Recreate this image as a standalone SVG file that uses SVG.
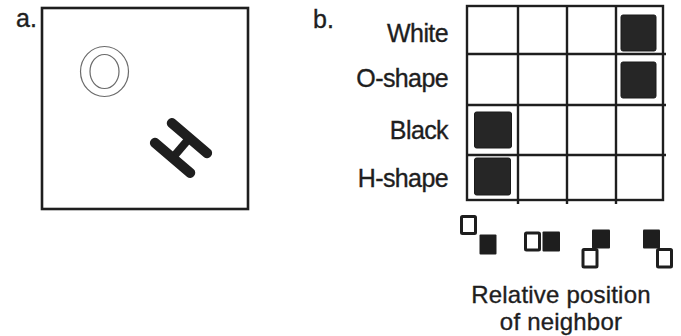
<svg xmlns="http://www.w3.org/2000/svg" width="681" height="336" viewBox="0 0 681 336">
<style>
text{font-family:"Liberation Sans",Arial,sans-serif;fill:#1e1e1e;stroke:#1e1e1e;stroke-width:0.35}
.lbl{font-size:25px;text-anchor:end;letter-spacing:-0.6px}
.ax{font-size:24px;text-anchor:middle;letter-spacing:0.2px}
.frame{fill:none;stroke:#1e1e1e;stroke-width:2.6}
.grid{stroke:#1e1e1e;stroke-width:2.4;fill:none}
.cell{fill:#262626;stroke:#1a1a1a;stroke-width:1}
.blk{fill:#1e1e1e}
.hol{fill:#fff;stroke:#1e1e1e;stroke-width:3}
.ring{fill:none;stroke:#6a6a6a;stroke-width:1.2}
</style>
<rect width="681" height="336" fill="#fff"/>
<g id="panel-a">
  <text x="16" y="27" style="font-size:25px">a.</text>
  <rect class="frame" x="42" y="8" width="206" height="201"/>
  <g id="o-shape">
    <ellipse class="ring" cx="104.5" cy="71.5" rx="24" ry="25"/>
    <ellipse class="ring" cx="104.5" cy="71.5" rx="14.5" ry="17"/>
  </g>
  <g id="h-shape" transform="translate(181,148) rotate(-49.5)" fill="#1e1e1e">
    <rect x="-18" y="-28" width="10" height="56" rx="4.5"/>
    <rect x="8" y="-28" width="10" height="56" rx="4.5"/>
    <rect x="-10" y="-4" width="20" height="8"/>
  </g>
</g>
<g id="panel-b">
  <text x="313" y="28" style="font-size:25px">b.</text>
  <g id="row-labels">
    <text class="lbl" x="448" y="42">White</text>
    <text class="lbl" x="448" y="87">O-shape</text>
    <text class="lbl" x="448" y="139">Black</text>
    <text class="lbl" x="448" y="187">H-shape</text>
  </g>
  <g id="grid">
    <rect class="grid" x="467" y="6" width="196" height="194"/>
    <path class="grid" d="M518 6V204M567 6V204M616 6V204M467 54H666M467 105H666M467 155H666"/>
  </g>
  <g id="cells">
    <rect class="cell" x="621" y="15" width="35" height="36" rx="2"/>
    <rect class="cell" x="621" y="62" width="35" height="36" rx="2"/>
    <rect class="cell" x="474.5" y="112" width="37" height="36" rx="2"/>
    <rect class="cell" x="474.5" y="158" width="36" height="37" rx="2"/>
  </g>
  <g id="neighbor-icons">
    <rect class="hol" x="461.5" y="216.5" width="14" height="17" rx="1"/>
    <rect class="blk" x="479.5" y="234.5" width="17" height="20" rx="1"/>
    <rect class="hol" x="525.5" y="233" width="14" height="17" rx="1"/>
    <rect class="blk" x="542.5" y="231.5" width="17.5" height="20" rx="1"/>
    <rect class="blk" x="592" y="229.5" width="18" height="19" rx="1"/>
    <rect class="hol" x="583" y="249.5" width="14" height="17.5" rx="1"/>
    <rect class="blk" x="643" y="229.5" width="17" height="19" rx="1"/>
    <rect class="hol" x="657.5" y="249.5" width="14" height="17.5" rx="1"/>
  </g>
  <text class="ax" x="561" y="303">Relative position</text>
  <text class="ax" x="561" y="330">of neighbor</text>
</g>
</svg>
